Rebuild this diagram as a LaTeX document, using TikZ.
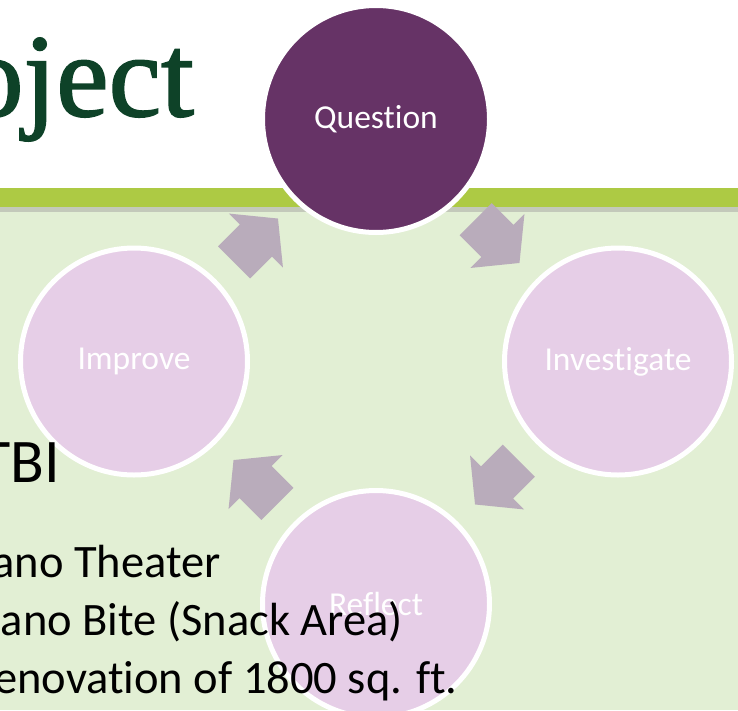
\documentclass[tikz,border=0pt]{standalone}
\usepackage{fontspec}
\setmainfont{Carlito}[Ligatures=NoCommon]
\newfontfamily\titlefont[FakeBold=1.5]{Liberation Serif}
\usetikzlibrary{shapes.arrows}
\definecolor{slidegreen}{HTML}{E2EFD4}
\definecolor{bargreen}{HTML}{ADCA44}
\definecolor{barshade}{HTML}{C3C9BA}
\definecolor{darkplum}{HTML}{663366}
\definecolor{paleplum}{HTML}{E6CEE7}
\definecolor{arrowgray}{HTML}{B9ACBB}
\definecolor{titlegreen}{HTML}{0E4228}
\tikzset{
  stage/.style= {draw=white, line width=5pt, circle, minimum size=227pt, inner sep=0pt,
    fill=paleplum, text=white, font=\fontsize{33.5}{40}\selectfont},
  current/.style= {fill=darkplum},
  flow/.style= {single arrow, fill=arrowgray, inner xsep=0pt, inner ysep=22.5pt,
    minimum height=62pt, single arrow head extend=15.5pt, single arrow tip angle=101.6},
  body/.style= {inner sep=0pt, anchor=base east, font=\fontsize{46.5}{54}\selectfont},
}

\begin{document}
\begin{tikzpicture}[x=1pt, y=-1pt]
  \useasboundingbox (0,0) rectangle (738,710) ;
  \fill [white] (0,0) rectangle (738,188) ;
  \fill [bargreen] (0,188) rectangle (738,207) ;
  \fill [barshade] (0,207) rectangle (738,212) ;
  \fill [slidegreen] (0,212) rectangle (738,710) ;
  \node [inner sep=0pt, anchor=base east, text=titlegreen,
    font=\titlefont\fontsize{118}{120}\selectfont] (title) at (194,116) {oject} ;

  \node [stage, current] (q) at (376,119) {Question} ;
  \node [stage] (inv) at (618,361.5) {Investigate} ;
  \node [stage] (ref) at (376,604) {Reflect} ;
  \node [stage] (imp) at (134,361.5) {Improve} ;

  \node [flow, rotate=-45] (a1) at (491,234.5) {} ;
  \node [flow, rotate=-135] (a2) at (503.5,476) {} ;
  \node [flow, rotate=135] (a3) at (262,488.5) {} ;
  \node [flow, rotate=45] (a4) at (249.5,247) {} ;

  \node [body, font=\fontsize{62}{70}\selectfont] (tbi) at (60,482) {TBI} ;
  \node [body] (l1) at (221,577) {ano Theater} ;
  \node [body] (l2) at (403,635) {ano Bite (Snack Area)} ;
  \node [body] (l3) at (458,693) {enovation of 1800 sq. ft.} ;
\end{tikzpicture}
\end{document}
